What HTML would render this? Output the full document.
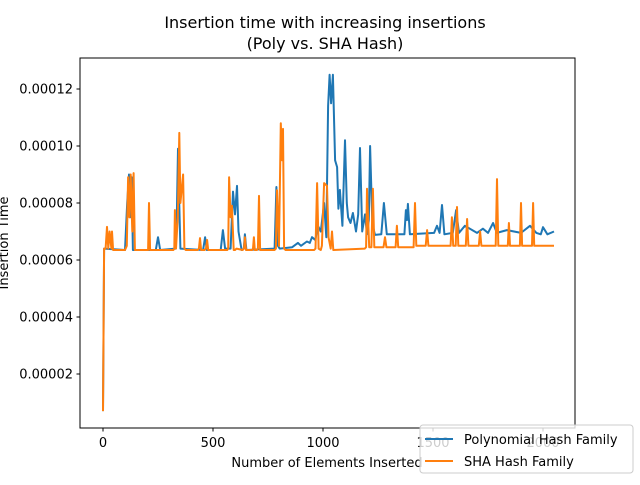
<!DOCTYPE html>
<html><head><meta charset="utf-8"><style>
body{margin:0;background:#fff;font-family:"Liberation Sans","DejaVu Sans",sans-serif}
svg text{font-family:"DejaVu Sans","Liberation Sans",sans-serif;fill:#000}
</style></head><body>
<svg id="chart" width="640" height="480" viewBox="0 0 640 480" xmlns="http://www.w3.org/2000/svg">
<rect width="640" height="480" fill="#fff"/>
<text x="325" y="28" font-size="16" text-anchor="middle">Insertion time with increasing insertions</text>
<text x="325" y="49" font-size="16" text-anchor="middle">(Poly vs. SHA Hash)</text>
<g id="plot"></g>
<rect x="80" y="58" width="495" height="370" fill="none" stroke="#000" stroke-width="1"/>
<text x="327" y="467" font-size="13" text-anchor="middle">Number of Elements Inserted</text>
<text x="8" y="243" font-size="13" text-anchor="middle" transform="rotate(-90 8 243)">Insertion Time</text>
<g>
<rect x="420" y="425" width="213" height="48" rx="3" fill="#fff" fill-opacity="0.8" stroke="#ccc"/>
<line x1="425" y1="439" x2="453" y2="439" stroke="#1f77b4" stroke-width="2"/>
<text x="464" y="444" font-size="13">Polynomial Hash Family</text>
<line x1="425" y1="461" x2="453" y2="461" stroke="#ff7f0e" stroke-width="2"/>
<text x="464" y="466" font-size="13">SHA Hash Family</text>
</g>
</svg>
<script>
const xTicks=[0,500,1000,1500,2000];
const xTickLabels=["0","500","1000","1500","2000"];
const yTicks=[2,4,6,8,10,12];
const yTickLabels=["0.00002","0.00004","0.00006","0.00008","0.00010","0.00012"];
const polyX=[0,5,100,110,118,123,130,136,240,250,260,330,336,341,346,352,455,464,472,535,545,555,580,591,600,609,616,630,640,645,652,780,788,795,803,860,886,900,927,940,950,965,977,990,1005,1015,1023,1030,1037,1045,1055,1064,1070,1077,1088,1100,1108,1114,1125,1136,1150,1160,1168,1178,1191,1200,1208,1214,1224,1236,1265,1277,1290,1370,1377,1382,1386,1395,1505,1518,1530,1541,1552,1590,1605,1618,1645,1700,1727,1750,1773,1790,1836,1900,1941,1970,1990,2000,2020,2050];
const polyY=[0.7,6.4,6.35,8.0,9.0,7.5,8.9,6.35,6.35,6.8,6.35,6.4,7.7,9.9,8.2,6.4,6.35,6.8,6.35,6.35,7.05,6.4,6.4,8.4,7.6,8.6,7.0,6.35,6.4,6.9,6.35,6.4,8.56,6.5,6.4,6.45,6.6,6.5,6.65,6.6,6.8,6.7,7.2,7.0,8.0,6.8,11.4,12.5,11.5,12.5,9.5,9.26,7.8,8.46,7.2,10.2,8.0,7.5,7.3,7.65,7.0,7.6,9.93,7.0,7.6,6.9,7.4,10.0,7.3,6.88,6.9,8.0,6.9,6.9,7.75,7.4,7.97,6.9,6.95,7.2,6.95,7.93,6.9,6.95,7.75,6.95,7.2,6.95,7.1,6.95,7.3,6.95,7.05,6.95,7.2,6.95,6.9,7.15,6.9,7.0];
const shaX=[0,5,12,18,24,30,38,41,46,100,108,114,120,126,133,139,145,152,200,205,209,214,320,324,327,332,340,347,352,364,370,376,430,436,441,446,462,468,473,478,565,569,573,580,586,594,600,607,635,641,645,650,678,682,686,690,700,704,709,714,780,786,791,800,808,814,818,823,830,960,966,973,980,990,995,1005,1018,1025,1035,1041,1047,1190,1196,1200,1210,1220,1227,1233,1275,1282,1288,1330,1336,1342,1412,1418,1424,1467,1473,1479,1580,1586,1592,1603,1609,1615,1649,1655,1661,1708,1714,1720,1785,1791,1797,1840,1845,1850,1895,1900,1905,1950,1955,1960,2000,2050];
const shaY=[0.7,6.4,6.4,7.16,6.4,7.0,6.4,7.0,6.35,6.35,6.5,8.9,7.5,9.0,7.0,9.05,6.35,6.35,6.35,6.35,8.0,6.35,6.35,6.4,7.75,6.4,7.5,10.46,8.0,9.0,6.4,6.35,6.35,6.4,6.77,6.35,6.35,6.4,6.7,6.35,6.35,6.4,8.9,7.5,7.9,6.35,6.35,6.4,6.35,6.4,6.8,6.35,6.35,6.4,6.8,6.35,6.35,6.4,8.25,6.35,6.35,6.4,8.45,6.5,10.8,9.5,10.6,6.4,6.35,6.35,6.4,8.7,6.4,6.35,6.5,8.7,8.6,6.8,6.4,7.0,6.35,6.4,6.45,8.5,6.45,6.45,8.5,6.45,6.45,6.8,6.45,6.45,7.2,6.45,6.45,8.0,6.5,6.5,7.05,6.5,6.5,7.5,6.5,6.5,7.86,6.5,6.5,7.44,6.5,6.5,7.0,6.5,6.5,8.84,6.5,6.5,7.3,6.5,6.5,8.0,6.5,6.5,8.0,6.5,6.5,6.5];
const xs=v=>103+v*0.22;
const ys=v=>431-v*28.5;
const NS="http://www.w3.org/2000/svg";
const g=document.getElementById('plot');
function mk(t,a){const e=document.createElementNS(NS,t);for(const k in a)e.setAttribute(k,a[k]);g.appendChild(e);return e;}
xTicks.forEach((t,i)=>{
  const l=mk('line',{x1:xs(t),x2:xs(t),y1:428,y2:431.5,stroke:'#000'});
  
  
  const tx=mk('text',{x:xs(t),y:447,'font-size':13,'text-anchor':'middle'});
  tx.textContent=xTickLabels[i];
  
  
});
yTicks.forEach((t,i)=>{
  const l=mk('line',{x1:76.5,x2:80,y1:ys(t),y2:ys(t),stroke:'#000'});
  
  
  const tx=mk('text',{x:73,y:ys(t)+4.5,'font-size':13,'text-anchor':'end'});
  tx.textContent=yTickLabels[i];
  
  
});
function line(X,Y,c,name){
  const p=mk('polyline',{points:X.map((x,i)=>xs(x).toFixed(1)+','+ys(Y[i]).toFixed(1)).join(' '),fill:'none',stroke:c,'stroke-width':2,'stroke-linejoin':'round'});
  
  
}
line(polyX,polyY,'#1f77b4','poly-series-line');
line(shaX,shaY,'#ff7f0e','sha-series-line');
</script>
</body></html>
